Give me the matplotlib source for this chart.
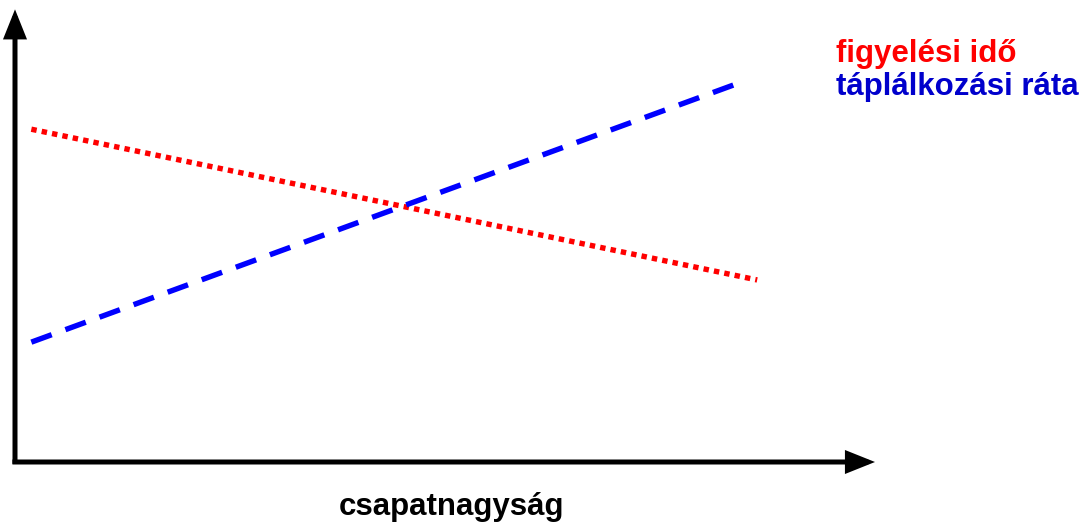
import matplotlib.pyplot as plt
from matplotlib.patches import ArrowStyle

plt.rcParams["font.family"] = ["Liberation Sans", "DejaVu Sans"]

# schematic values: group size vs. vigilance / feeding rate (arbitrary units)
group_size = [1.9, 86.3]
vigilance = [73.3, 40.1]
feeding_size = [1.9, 84.5]
feeding_rate = [26.4, 83.7]

series_labels = ["figyelési idő", "táplálkozási ráta"]
x_label = "csapatnagyság"

fig = plt.figure(figsize=(10.87, 5.23), dpi=100)
ax = fig.add_axes([15 / 1087, 61 / 523, 860 / 1087, 454 / 523])
ax.set_xlim(0, 100)
ax.set_ylim(0, 100)
for s in ax.spines.values():
    s.set_visible(False)
ax.set_xticks([])
ax.set_yticks([])
ax.patch.set_alpha(0)

# red dotted line: vigilance
ax.plot(group_size, vigilance, color="#FF0000", lw=3.9,
        linestyle=(0, (1, 0.95)), dash_capstyle="butt")
# blue dashed line: feeding rate
ax.plot(feeding_size, feeding_rate, color="#0000FF", lw=3.9,
        linestyle=(0, (4.0, 2.7)), dash_capstyle="butt")

# axes with arrowheads
style = ArrowStyle("-|>", head_length=1.0, head_width=0.4)
arrow_kw = dict(arrowstyle=style, lw=3.6, color="black", mutation_scale=15,
                shrinkA=0, shrinkB=0, joinstyle="miter", capstyle="butt")
ax.annotate("", xy=(1.0, 0), xytext=(-0.003, 0), xycoords="axes fraction",
            arrowprops=arrow_kw, annotation_clip=False)
ax.annotate("", xy=(0, 0.997), xytext=(0, -0.004), xycoords="axes fraction",
            arrowprops=arrow_kw, annotation_clip=False)

fig.text(836 / 1087, 1 - 62 / 523, series_labels[0], color="#FF0000",
         fontsize=22.5, fontweight="bold", ha="left", va="baseline")
fig.text(836 / 1087, 1 - 95 / 523, series_labels[1], color="#0000CC",
         fontsize=22.5, fontweight="bold", ha="left", va="baseline")
fig.text(452 / 1087, 1 - 515 / 523, x_label, color="black",
         fontsize=22.5, fontweight="bold", ha="center", va="baseline")

fig.savefig("out.png", dpi=100)
